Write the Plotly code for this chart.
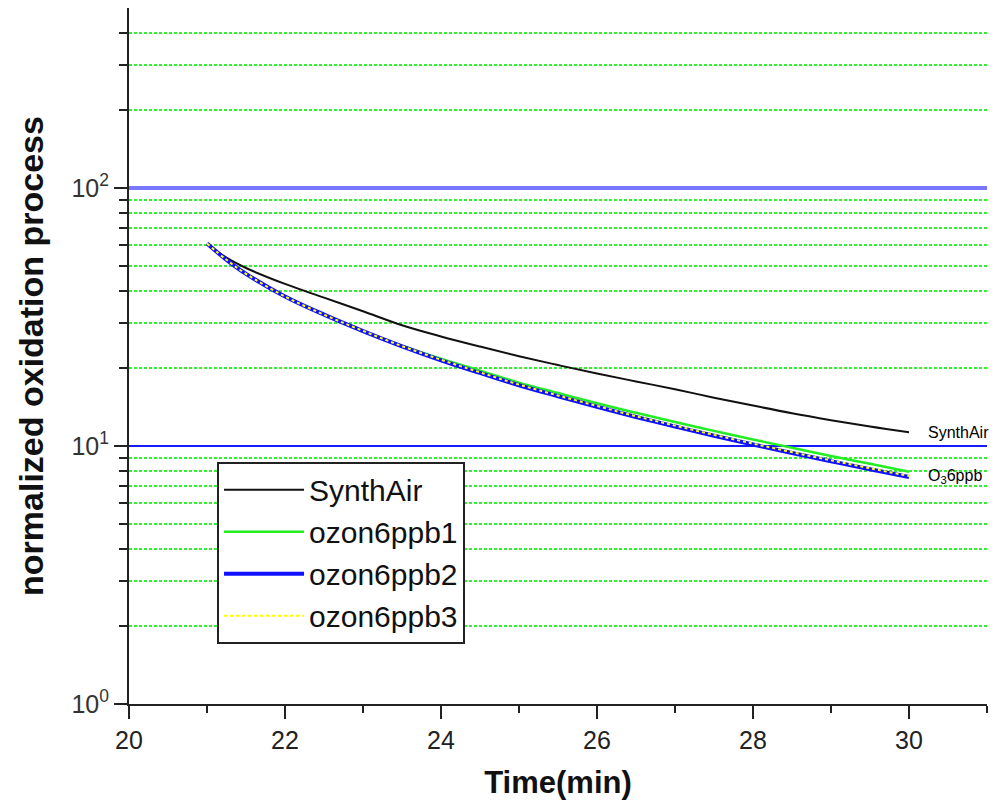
import math
import plotly.graph_objects as go

# ---- data ----
time_min = [21.0, 21.25, 21.5, 22.0, 22.5, 23.0, 23.5, 24.0, 24.5, 25.0, 25.5,
            26.0, 26.5, 27.0, 27.5, 28.0, 28.5, 29.0, 29.5, 30.0]
synthair = [61.0, 53.7, 49.0, 42.5, 37.6, 33.3, 29.4, 26.6, 24.3, 22.3, 20.6,
            19.1, 17.8, 16.6, 15.4, 14.35, 13.4, 12.6, 11.9, 11.3]
ozon6ppb1 = [61.0, 52.7, 46.5, 38.0, 32.3, 27.9, 24.5, 21.8, 19.6, 17.6, 16.05,
             14.65, 13.45, 12.4, 11.45, 10.6, 9.85, 9.15, 8.53, 7.95]
ozon6ppb2 = [61.0, 52.7, 46.5, 38.0, 32.3, 27.9, 24.35, 21.5, 19.2, 17.2, 15.6,
             14.2, 12.96, 11.9, 10.96, 10.14, 9.4, 8.73, 8.13, 7.59]
ozon6ppb3 = [61.0, 52.7, 46.5, 38.0, 32.3, 27.95, 24.4, 21.6, 19.3, 17.3, 15.7,
             14.3, 13.05, 12.0, 11.05, 10.22, 9.47, 8.8, 8.2, 7.65]

x_ticks = [20, 22, 24, 26, 28, 30]
y_major = [1, 10, 100]
y_major_text = ["10<sup>0</sup>", "10<sup>1</sup>", "10<sup>2</sup>"]
y_minor = [2, 3, 4, 5, 6, 7, 8, 9, 20, 30, 40, 50, 60, 70, 80, 90, 200, 300, 400]

end_labels = ["SynthAir", "O<sub>3</sub>6ppb"]
end_label_y = [11.3, 7.6]

SANS = "Liberation Sans, Arial, sans-serif"

fig = go.Figure()
fig.add_trace(go.Scatter(x=time_min, y=synthair, name="SynthAir", mode="lines",
                         line=dict(color="#111111", width=2, shape="spline")))
fig.add_trace(go.Scatter(x=time_min, y=ozon6ppb1, name="ozon6ppb1", mode="lines",
                         line=dict(color="#22ee22", width=2.5, shape="spline")))
fig.add_trace(go.Scatter(x=time_min, y=ozon6ppb2, name="ozon6ppb2", mode="lines",
                         line=dict(color="#1010ff", width=4, shape="spline")))
fig.add_trace(go.Scatter(x=time_min, y=ozon6ppb3, name="ozon6ppb3", mode="lines",
                         line=dict(color="#ffff00", width=2, dash="dot", shape="spline")))

# lighter, thicker reference line at 10^2
fig.add_hline(y=100, line=dict(color="rgb(120,120,255)", width=4), layer="above")

for txt, yv in zip(end_labels, end_label_y):
    fig.add_annotation(x=30.22, y=math.log10(yv), yref="y", xref="x", text=txt,
                       showarrow=False, xanchor="left", yanchor="middle",
                       font=dict(family=SANS, size=16, color="black"))

# the page adds an 8px body margin, so the figure is 8px smaller than the window
fig.update_layout(
    width=1000, height=803,
    margin=dict(l=121, r=21, t=0, b=107, autoexpand=False),
    plot_bgcolor="white", paper_bgcolor="white",
    showlegend=True,
    legend=dict(x=0.1026, y=0.348, xanchor="left", yanchor="top",
                bgcolor="white", bordercolor="#222222", borderwidth=2,
                font=dict(family=SANS, size=30, color="#111111"),
                itemwidth=80, tracegroupgap=0),
)

fig.update_xaxes(
    range=[20, 31], tickmode="array", tickvals=x_ticks,
    ticks="outside", ticklen=13, tickwidth=2, tickcolor="#222222",
    showline=True, linecolor="#222222", linewidth=2, showgrid=False, zeroline=False,
    minor=dict(dtick=1, tick0=20, ticks="outside", ticklen=7, tickwidth=2, tickcolor="#222222",
               showgrid=False),
    tickfont=dict(family=SANS, size=25, color="#222222"),
    title=dict(text="Time(min)", standoff=18,
               font=dict(family=SANS, size=31, color="#111111", weight="bold")),
)

fig.update_yaxes(
    type="log", range=[0, 2.698],
    tickmode="array", tickvals=y_major, ticktext=y_major_text,
    ticks="outside", ticklen=13, tickwidth=2, tickcolor="#222222",
    showline=True, linecolor="#222222", linewidth=2,
    showgrid=True, gridcolor="#1a1aff", gridwidth=2, zeroline=False,
    minor=dict(tickmode="array", tickvals=y_minor, ticks="outside", ticklen=8, tickwidth=2,
               tickcolor="#222222", showgrid=True, gridcolor="#33ee33", gridwidth=2,
               griddash="3px,2px"),
    tickfont=dict(family=SANS, size=25, color="#333333"),
    title=dict(text="normalized oxidation process", standoff=18,
               font=dict(family=SANS, size=34, color="#111111", weight="bold")),
)

fig.write_html("out.html")
